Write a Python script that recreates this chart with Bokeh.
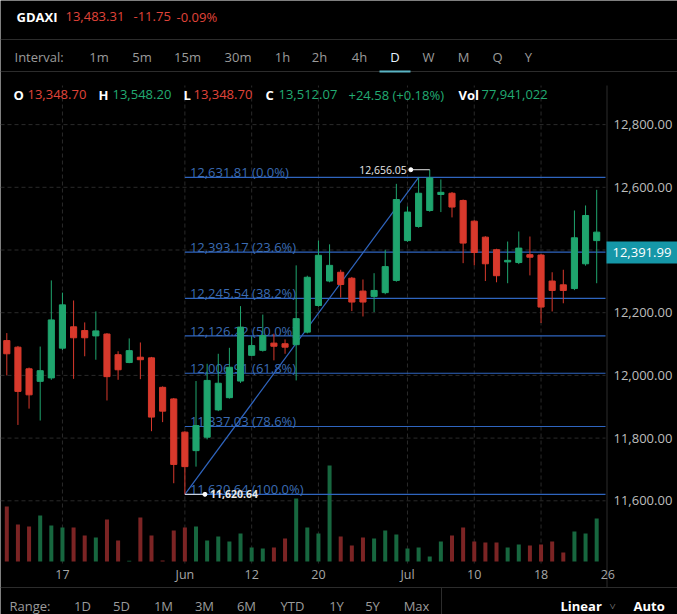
from bokeh.plotting import figure
from bokeh.models import Range1d, ColumnDataSource
from bokeh.core.properties import value
from bokeh.embed import file_html
from bokeh.resources import INLINE

# ---------------- data ----------------
opens = [12111, 12090, 12021, 11981, 11992, 12087, 12155, 12143, 12126, 12132,
         12066, 12041, 12058, 12056, 11962, 11925, 11819, 11760, 11803, 11890,
         11929, 11982, 12064, 12080, 12103, 12101, 12098, 12138, 12223, 12301,
         12329, 12310, 12269, 12252, 12264, 12303, 12430, 12475, 12526, 12577,
         12581, 12558, 12492, 12441, 12401, 12362, 12360, 12385, 12384, 12301,
         12289, 12277, 12356, 12430]
highs = [12135, 12094, 12025, 12092, 12303, 12264, 12239, 12169, 12204, 12135,
         12077, 12118, 12105, 12059, 11965, 11928, 11822, 11982, 12037, 12069,
         12088, 12221, 12125, 12194, 12133, 12115, 12351, 12318, 12430, 12418,
         12337, 12314, 12306, 12326, 12401, 12611, 12539, 12631.81, 12656.05, 12625,
         12585, 12561, 12495, 12444, 12404, 12427, 12459, 12443, 12387, 12329,
         12337, 12526, 12542, 12592]
lows = [12000, 11842, 11894, 11856, 11986, 12081, 11989, 12061, 12050, 11920,
        11986, 12039, 11988, 11822, 11851, 11656, 11620.64, 11709, 11796, 11886,
        11926, 11976, 12061, 12076, 12048, 12069, 11984, 12134, 12219, 12297,
        12248, 12205, 12188, 12202, 12259, 12299, 12426, 12471, 12522, 12521,
        12504, 12358, 12351, 12301, 12297, 12294, 12355, 12319, 12167, 12204,
        12230, 12272, 12350, 12294]
closes = [12069, 11949, 11938, 12015, 12177, 12225, 12120, 12120, 12142, 11996,
          12018, 12079, 12050, 11867, 11886, 11716, 11709, 11840, 11984, 11975,
          12026, 12154, 12095, 12127, 12093, 12090, 12181, 12313, 12383, 12351,
          12290, 12234, 12234, 12271, 12347, 12561, 12521, 12581, 12630, 12584,
          12537, 12422, 12392, 12356, 12318, 12367, 12406, 12377, 12218, 12271,
          12271, 12439, 12510, 12457]
volumes_m = [55, 37, 35, 46, 36, 34, 34, 26, 24, 42,
             21, 0.8, 44, 26, 1, 31, 34, 35, 21, 25,
             20, 28, 14, 13, 14, 23, 63, 34, 28, 96,
             25, 16, 24, 23, 31, 27, 13, 14, 5, 20,
             26, 34, 20, 19, 19, 14, 17, 16, 17, 20,
             9, 30, 28, 43]

fib_levels = [12631.81, 12393.17, 12245.54, 12126.22, 12006.91, 11837.03, 11620.64]
fib_pcts = ["0.0%", "23.6%", "38.2%", "50.0%", "61.8%", "78.6%", "100.0%"]
fib_start_idx = 16
fib_top_idx = 37
swing_low_idx = 16
swing_low = 11620.64
swing_high_idx = 38
swing_high = 12656.05
last_price = 12391.99

date_tick_idx = [5, 16, 22, 28, 36, 42, 48, 54]
date_tick_labels = ["17", "Jun", "12", "20", "Jul", "10", "18", "26"]
price_ticks = [11600, 11800, 12000, 12200, 12400, 12600, 12800]

interval_items = ["1m", "5m", "15m", "30m", "1h", "2h", "4h", "D", "W", "M", "Q", "Y"]
range_items = ["1D", "5D", "1M", "3M", "6M", "YTD", "1Y", "5Y", "Max"]

# ---------------- layout constants ----------------
W, H = 677, 614
STEP = 11.13          # px per bar
X0 = 6.3              # px of bar 0
PPX = 0.3135          # px per index point
Y_REF_PX = 500.3      # px of the 11,600 level
Y_REF = 11600
VOL_BASE_PX = 561
VOL_PX = 1.0


def RX(px):
    return (px - X0) / STEP


def RY(py):
    return Y_REF + (Y_REF_PX - py) / PPX


UP, DN = "#1fa56e", "#d8392c"
VUP, VDN = "#17673f", "#7c2424"
TXT_RED, TXT_GREEN = "#e0443a", "#22ab72"
GRAY = "#9b9b9b"
SEP = "#2c2c2c"
GRID = "#2a2a2a"
FIB = "#2f65bf"
FIB_TXT = "#3b6cb4"
FONT = value("Open Sans")

p = figure(width=W, height=H, output_backend="svg", toolbar_location=None, tools="",
           x_range=Range1d(RX(0), RX(W)),
           y_range=Range1d(RY(H), RY(0)),
           x_axis_location=None, y_axis_location=None,
           min_border=0, background_fill_color="#000000",
           border_fill_color="#000000", outline_line_color=None)
p.xgrid.visible = False
p.ygrid.visible = False
p.extra_y_ranges = {"vol": Range1d(-(H - VOL_BASE_PX) / VOL_PX, VOL_BASE_PX / VOL_PX)}


def txt(x, y, s, color, size="13px", align="left", bold=False, baseline="middle", **kw):
    p.text(x=[x], y=[y], text=[s], text_color=color, text_font=FONT,
           text_font_size=size, text_align=align, text_baseline=baseline,
           text_font_style="bold" if bold else "normal", **kw)


def hline(y, x0, x1, color=SEP, width=1, dash="solid"):
    p.segment(x0=[x0], y0=[y], x1=[x1], y1=[y], line_color=color, line_width=width, line_dash=dash)


def vline(x, y0, y1, color=SEP, width=1, dash="solid"):
    p.segment(x0=[x], y0=[y0], x1=[x], y1=[y1], line_color=color, line_width=width, line_dash=dash)


# ---------------- grid ----------------
chart_right = RX(605)
p.segment(x0=[RX(0)] * len(price_ticks), x1=[chart_right] * len(price_ticks),
          y0=price_ticks, y1=price_ticks, line_color=GRID, line_dash="4 3")
grid_x = date_tick_idx[:-1]
p.segment(x0=grid_x, x1=grid_x, y0=[RY(563)] * len(grid_x), y1=[RY(85)] * len(grid_x),
          line_color=GRID, line_dash="4 3")

# ---------------- candles & volume source ----------------
n = len(opens)
idx = list(range(n))
is_up = [c >= o for o, c in zip(opens, closes)]
src = ColumnDataSource(dict(
    x=idx, o=opens, h=highs, l=lows, c=closes,
    top=[max(o, c) for o, c in zip(opens, closes)],
    bottom=[min(o, c) for o, c in zip(opens, closes)],
    color=[UP if u else DN for u in is_up],
    vcolor=[VUP if u else VDN for u in is_up],
    vol=volumes_m,
))

p.vbar(x="x", width=0.36, top="vol", bottom=0, fill_color="vcolor", line_color=None,
       y_range_name="vol", source=src)

# ---------------- fibonacci drawing (under the candles) ----------------
k = len(fib_levels)
p.segment(x0=[fib_start_idx] * k, x1=[chart_right] * k, y0=fib_levels, y1=fib_levels,
          line_color=FIB, line_width=1.2)
p.text(x=[fib_start_idx] * k, y=fib_levels,
       text=[f"{lv:,.2f} ({pc})" for lv, pc in zip(fib_levels, fib_pcts)],
       text_color=FIB_TXT, text_font=FONT, text_font_size="13px",
       text_baseline="alphabetic", x_offset=5, y_offset=-5)
p.line(x=[swing_low_idx, fib_top_idx], y=[swing_low, fib_levels[0]], line_color=FIB, line_width=1.2)

# ---------------- candles ----------------
p.segment(x0="x", y0="l", x1="x", y1="h", line_color="color", line_width=1, source=src)
p.vbar(x="x", width=0.55, top="top", bottom="bottom", fill_color="color",
       line_color="color", line_width=1, source=src)

# ---------------- high / low markers ----------------
hx = swing_high_idx - 1.7
hline(swing_high, hx, swing_high_idx, color="#e6e6e6")
p.scatter(x=[hx], y=[swing_high], size=4, color="#ffffff")
txt(hx, swing_high, f"{swing_high:,.2f}", "#e8e8e8", size="10.5px", align="right", x_offset=-4)

lx = swing_low_idx + 1.8
hline(swing_low, swing_low_idx, lx, color="#e6e6e6")
p.scatter(x=[lx], y=[swing_low], size=4, color="#ffffff")
txt(lx, swing_low, f"{swing_low:,.2f}", "#e8e8e8", size="10.5px", bold=True, x_offset=5)

# ---------------- right price scale ----------------
vline(RX(606.5), RY(85), RY(587))
p.text(x=[RX(613)] * len(price_ticks), y=price_ticks,
       text=[f"{t:,.2f}" for t in price_ticks], text_color="#bdbdbd", text_font=FONT,
       text_font_size="13px", text_baseline="middle")
p.quad(left=[RX(606)], right=[RX(W + 10)], bottom=[last_price - 11 / PPX],
       top=[last_price + 11 / PPX], fill_color="#1597a8", line_color=None)
txt(RX(612), last_price, f"{last_price:,.2f}", "#ffffff")

# ---------------- date axis labels ----------------
p.text(x=date_tick_idx, y=[RY(574)] * len(date_tick_idx), text=date_tick_labels,
       text_color="#a6a6a6", text_font=FONT, text_font_size="12.5px",
       text_align="center", text_baseline="middle")

# ---------------- header ----------------
txt(RX(16), RY(16), "GDAXI", "#ffffff", bold=True)
txt(RX(65), RY(16), "13,483.31", TXT_RED)
txt(RX(133), RY(16), "-11.75", TXT_RED)
txt(RX(176), RY(16), "-0.09%", TXT_RED)
hline(RY(39), RX(0), RX(W))

txt(RX(14), RY(56), "Interval:", GRAY)
interval_x = [98.5, 141.5, 187, 237.5, 282, 319, 359, 394.5, 428, 463, 497, 528]
for s, xx in zip(interval_items, interval_x):
    txt(RX(xx), RY(56), s, "#e6f2ff" if s == "D" else GRAY, align="center")
hline(RY(71), RX(0), RX(W))
hline(RY(71), RX(379), RX(410), color="#5ab4c4", width=2)

ohlc = [("O", 13, "#ffffff", True), ("13,348.70", 27, TXT_RED, False),
        ("H", 98, "#ffffff", True), ("13,548.20", 112, TXT_GREEN, False),
        ("L", 183, "#ffffff", True), ("13,348.70", 193, TXT_RED, False),
        ("C", 265, "#ffffff", True), ("13,512.07", 278, TXT_GREEN, False),
        ("+24.58 (+0.18%)", 348, TXT_GREEN, False),
        ("Vol", 458, "#ffffff", True), ("77,941,022", 481, TXT_GREEN, False)]
for s, xx, col, b in ohlc:
    txt(RX(xx), RY(94), s, col, bold=b)

# ---------------- footer ----------------
hline(RY(587), RX(0), RX(W))
vline(RX(441), RY(587), RY(H))
txt(RX(9), RY(605), "Range:", GRAY)
range_x = [82, 121, 163, 204, 246, 292, 336, 372, 416]
for s, xx in zip(range_items, range_x):
    txt(RX(xx), RY(605), s, GRAY, align="center")
txt(RX(560), RY(605), "Linear", "#ffffff", bold=True)
txt(RX(612), RY(605), "˅", GRAY, size="11px", align="center")
txt(RX(633), RY(605), "Auto", "#ffffff", bold=True)

open("out.html", "w").write(file_html(p, INLINE))
